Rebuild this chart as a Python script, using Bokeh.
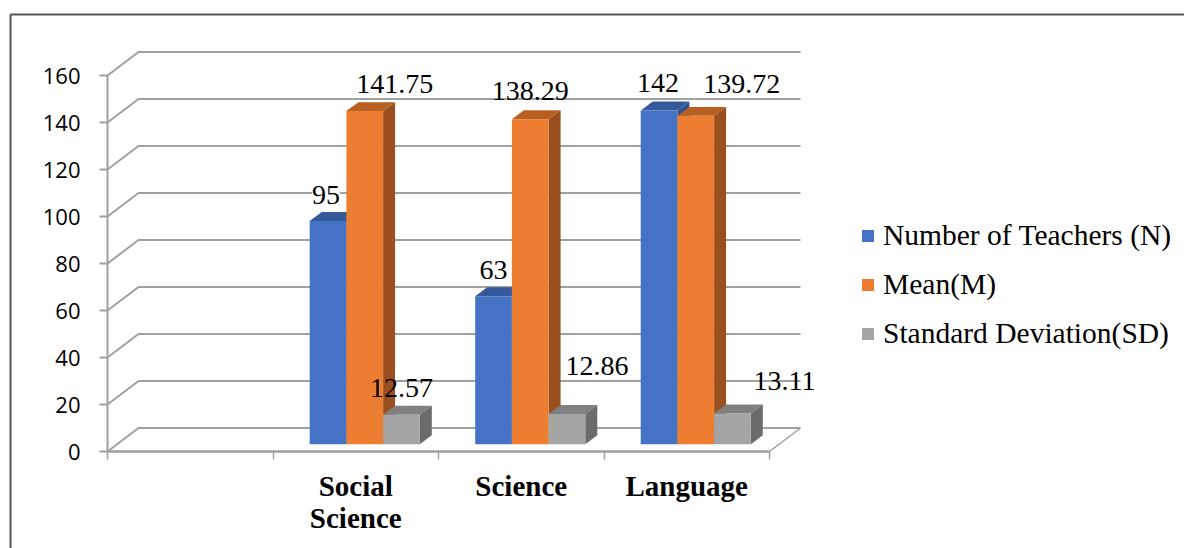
from bokeh.core.properties import value
from bokeh.embed import file_html
from bokeh.models import ColumnDataSource, FixedTicker, Legend, LegendItem, LinearAxis
from bokeh.plotting import figure
from bokeh.resources import INLINE

# Chart content
categories = ["Social\nScience", "Science", "Language"]
series_names = ["Number of Teachers (N)", "Mean(M)", "Standard Deviation(SD)"]
teachers = [95, 63, 142]
means = [141.75, 138.29, 139.72]
deviations = [12.57, 12.86, 13.11]
y_ticks = [0, 20, 40, 60, 80, 100, 120, 140, 160]

# Canvas and scale layout
W, H = 1184, 548
X0_PX, SLOT_PX = 107, 165.5
Y0_PX, UNIT_PX = 451, 2.35
SLOTS = 4
WALL_DX, WALL_DY = 31 / SLOT_PX, 10.0
BAR_W = 36.7 / SLOT_PX
BAR_SHIFT = 9 / SLOT_PX
BAR_BASE = 3.1
BAR_DX, BAR_DY = 12 / SLOT_PX, 3.8

GRID = "#a0a0a0"
FRONT = ["#4472C4", "#ED7D31", "#A5A5A5"]
TOP = ["#345A9C", "#B85F22", "#808080"]
SIDE = ["#2F5290", "#9A501E", "#6B6B6B"]
LABEL_FONT = "Liberation Serif"


def px_x(px):
    return (px - X0_PX) / SLOT_PX


def px_y(px):
    return (Y0_PX - px) / UNIT_PX


p = figure(
    width=W, height=H, output_backend="svg", toolbar_location=None,
    x_range=(px_x(0), px_x(W)), y_range=(px_y(H), px_y(0)),
    min_border=0, outline_line_color=None, background_fill_color="white",
    x_axis_location=None, y_axis_location=None,
)
p.grid.visible = False

# Chart area border: top and left edges only
p.line([px_x(10), px_x(10)], [px_y(H), px_y(14)], line_color="#555555", line_width=2)
p.line([px_x(10), px_x(W)], [px_y(14), px_y(14)], line_color="#555555", line_width=2)

# Back wall gridlines and the slanted side wall lines
for t in y_ticks:
    p.line([0, WALL_DX, SLOTS + WALL_DX], [t, t + WALL_DY, t + WALL_DY],
           line_color=GRID, line_width=2)
p.line([SLOTS, SLOTS + WALL_DX], [0, WALL_DY], line_color=GRID, line_width=1.5)

# Three-dimensional bars: front, top and side faces per series
series = [teachers, means, deviations]
front_renderers = []
for s, vals in enumerate(series):
    lefts = [i + 1.5 + BAR_SHIFT + (s - 1.5) * BAR_W for i in range(len(vals))]
    rights = [l + BAR_W for l in lefts]
    tops = [v + BAR_BASE for v in vals]
    top_xs = [[l, r, r + BAR_DX, l + BAR_DX] for l, r in zip(lefts, rights)]
    top_ys = [[t, t, t + BAR_DY, t + BAR_DY] for t in tops]
    side_xs = [[r, r + BAR_DX, r + BAR_DX, r] for r in rights]
    side_ys = [[BAR_BASE, BAR_BASE + BAR_DY, t + BAR_DY, t] for t in tops]
    p.patches(top_xs, top_ys, fill_color=TOP[s], line_color=None)
    p.patches(side_xs, side_ys, fill_color=SIDE[s], line_color=None)
    front_renderers.append(
        p.quad(left=lefts, right=rights, bottom=BAR_BASE, top=tops,
               fill_color=FRONT[s], line_color=None)
    )

# Value labels, hand placed relative to their bars
label_offsets = [
    [(-2, -9), (30, -10), (0, -10)],
    [(0, -9), (0, -11), (30, -31)],
    [(-1, -11), (46, -15), (52, -15)],
]
label_bg = [
    ["white", None, None],
    ["white", None, "white"],
    [None, None, None],
]
lx, ly, lt, dx, dy, bg = [], [], [], [], [], []
for s, vals in enumerate(series):
    for i, v in enumerate(vals):
        lx.append(i + 1.5 + BAR_SHIFT + (s - 1) * BAR_W)
        ly.append(v + BAR_BASE)
        lt.append(str(v))
        dx.append(label_offsets[i][s][0])
        dy.append(label_offsets[i][s][1] - 8)
        bg.append(label_bg[i][s])
p.text(x="x", y="y", text="t", x_offset="dx", y_offset="dy",
       source=ColumnDataSource(dict(x=lx, y=ly, t=lt, dx=dx, dy=dy, bg=bg)),
       text_font=value(LABEL_FONT), text_font_size="28px", text_color="black",
       text_align="center", text_baseline="bottom", background_fill_color="bg")

# Value axis
y_axis = LinearAxis(fixed_location=0, ticker=FixedTicker(ticks=y_ticks), bounds=(0, 160))
y_axis.axis_line_color = GRID
y_axis.axis_line_width = 2
y_axis.major_tick_line_color = GRID
y_axis.major_tick_line_width = 2
y_axis.major_tick_in = 0
y_axis.major_tick_out = 8
y_axis.minor_tick_line_color = None
y_axis.major_label_text_font = "Open Sans"
y_axis.major_label_text_font_size = "22px"
y_axis.major_label_text_color = "black"
y_axis.major_label_standoff = 19
p.add_layout(y_axis, "left")

# Category axis: names at slot centres, minor ticks at the slot boundaries
cat_positions = [i + 1.5 for i in range(len(categories))]
cat_axis = LinearAxis(
    fixed_location=0,
    ticker=FixedTicker(ticks=cat_positions, minor_ticks=list(range(SLOTS + 1))),
    bounds=(0, SLOTS),
)
cat_axis.axis_line_color = GRID
cat_axis.axis_line_width = 2.5
cat_axis.major_tick_line_color = None
cat_axis.minor_tick_line_color = GRID
cat_axis.minor_tick_line_width = 1.5
cat_axis.minor_tick_in = 0
cat_axis.minor_tick_out = 8
cat_axis.major_label_overrides = dict(zip(cat_positions, categories))
cat_axis.major_label_text_font = LABEL_FONT
cat_axis.major_label_text_font_style = "bold"
cat_axis.major_label_text_font_size = "29px"
cat_axis.major_label_text_color = "black"
cat_axis.major_label_text_line_height = 1.0
cat_axis.major_label_standoff = 10
p.add_layout(cat_axis, "below")

# Legend to the right of the plot
legend = Legend(
    items=[LegendItem(label=n, renderers=[r]) for n, r in zip(series_names, front_renderers)],
    location=(860, H - 350),
    orientation="vertical",
    border_line_color=None,
    background_fill_alpha=0,
    glyph_width=15, glyph_height=15,
    label_standoff=8, spacing=16, padding=0, margin=0,
    label_text_font=LABEL_FONT, label_text_font_size="29.5px", label_text_color="black",
    label_height=33,
)
p.add_layout(legend)

open("out.html", "w").write(file_html(p, INLINE))
